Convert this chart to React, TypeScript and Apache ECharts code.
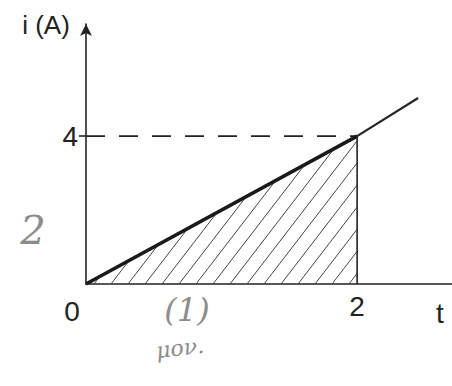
import React, { useEffect, useRef } from "react";
import * as echarts from "echarts";

// Current i (A) against time t: a linear rise, shaded area under it up to t = 2
const rampT = [0, 2];
const rampI = [0, 4];
const tailT = [2, 2.45];
const tailI = [4, 5.03];
const markT = 2;
const markI = 4;
const xTickLabels = [2];
const yTickLabels = [4];
// hatched region: [tStart, iStart, tEnd, iEnd]
const shadedRegion = [[0, 0, 2, 4]];

const INK = "#222222";
const PENCIL = "#8c8c8c";
const FONT = "'Liberation Sans', Arial, sans-serif";

export default function App() {
  const ref = useRef<HTMLDivElement>(null);

  useEffect(() => {
    if (!ref.current) return;
    const chart = echarts.init(ref.current, null, { renderer: "svg" });

    const rampData = rampT.map((t, k) => [t, rampI[k]]);
    const tailData = tailT.map((t, k) => [t, tailI[k]]);

    chart.setOption({
      animation: false,
      backgroundColor: "#ffffff",
      grid: { left: 86, right: 0, top: 24, bottom: 102 },
      xAxis: {
        type: "value",
        min: 0,
        max: 2.7,
        splitLine: { show: false },
        axisLine: { show: true, onZero: false, lineStyle: { color: INK, width: 1.6 } },
        axisTick: { show: false },
        axisLabel: {
          customValues: xTickLabels,
          margin: 8,
          color: INK,
          fontFamily: FONT,
          fontSize: 28,
        },
      },
      yAxis: {
        type: "value",
        min: 0,
        max: 7.03,
        splitLine: { show: false },
        axisLine: {
          show: true,
          onZero: false,
          symbol: ["none", "arrow"],
          symbolSize: [9, 12],
          lineStyle: { color: INK, width: 1.6 },
        },
        axisTick: {
          show: true,
          customValues: yTickLabels,
          length: 7,
          lineStyle: { color: INK, width: 1.6 },
        },
        axisLabel: {
          customValues: yTickLabels,
          margin: 8,
          color: INK,
          fontFamily: FONT,
          fontSize: 28,
        },
      },
      series: [
        {
          // hatching under the ramp
          type: "custom",
          coordinateSystem: "cartesian2d",
          encode: { x: [0, 2], y: [1, 3] },
          data: shadedRegion,
          silent: true,
          z: 1,
          renderItem: (_params: any, api: any) => {
            const p0 = api.coord([api.value(0), api.value(1)]);
            const p1 = api.coord([api.value(2), api.value(3)]);
            const x0 = p0[0];
            const yb = p0[1];
            const x2 = p1[0];
            const s = (yb - p1[1]) / (x2 - x0); // ramp slope in pixels
            const m = 1.3; // hatch slope in pixels
            const step = 17;
            const children: any[] = [];
            for (let c = x0 + 8; c < x2 - 1; c += step) {
              let xe = (m * c - s * x0) / (m - s);
              if (xe > x2) xe = x2;
              const ye = yb - m * (xe - c);
              children.push({
                type: "line",
                shape: { x1: c, y1: yb, x2: xe, y2: ye },
                style: { stroke: "#444444", lineWidth: 1 },
              });
            }
            return { type: "group", children };
          },
        },
        {
          type: "line",
          data: rampData,
          symbol: "none",
          z: 4,
          lineStyle: { color: "#1a1a1a", width: 3.6 },
        },
        {
          type: "line",
          data: tailData,
          symbol: "none",
          z: 4,
          lineStyle: { color: "#262626", width: 2.2 },
        },
        {
          type: "line",
          data: [
            [0, markI],
            [markT, markI],
          ],
          symbol: "none",
          z: 3,
          lineStyle: { color: INK, width: 1.8, type: [19, 14] },
        },
        {
          type: "line",
          data: [
            [markT, 0],
            [markT, markI],
          ],
          symbol: "none",
          z: 3,
          lineStyle: { color: INK, width: 1.6 },
        },
      ],
      graphic: [
        {
          type: "text",
          x: 46,
          y: 25,
          style: {
            text: "i (A)",
            fill: INK,
            font: `26px ${FONT}`,
            align: "center",
            verticalAlign: "middle",
          },
        },
        {
          type: "text",
          x: 72,
          y: 311,
          style: {
            text: "0",
            fill: INK,
            font: `28px ${FONT}`,
            align: "center",
            verticalAlign: "middle",
          },
        },
        {
          type: "text",
          x: 440,
          y: 313,
          style: {
            text: "t",
            fill: INK,
            font: `28px ${FONT}`,
            align: "center",
            verticalAlign: "middle",
          },
        },
        // pencil marks in the margin
        {
          type: "text",
          x: 33,
          y: 230,
          style: {
            text: "2",
            fill: PENCIL,
            font: `italic 40px 'DejaVu Serif', serif`,
            align: "center",
            verticalAlign: "middle",
          },
        },
        {
          type: "text",
          x: 187,
          y: 310,
          style: {
            text: "(1)",
            fill: PENCIL,
            font: `italic 32px 'DejaVu Serif', serif`,
            align: "center",
            verticalAlign: "middle",
          },
        },
        {
          type: "text",
          x: 180,
          y: 348,
          rotation: 0.12,
          style: {
            text: "μον.",
            fill: PENCIL,
            font: `italic 22px 'DejaVu Serif', serif`,
            align: "center",
            verticalAlign: "middle",
          },
        },
      ],
    });

    return () => chart.dispose();
  }, []);

  return (
    <div
      ref={ref}
      style={{
        position: "fixed",
        left: 0,
        top: 0,
        width: 452,
        height: 386,
        background: "#ffffff",
      }}
    />
  );
}
